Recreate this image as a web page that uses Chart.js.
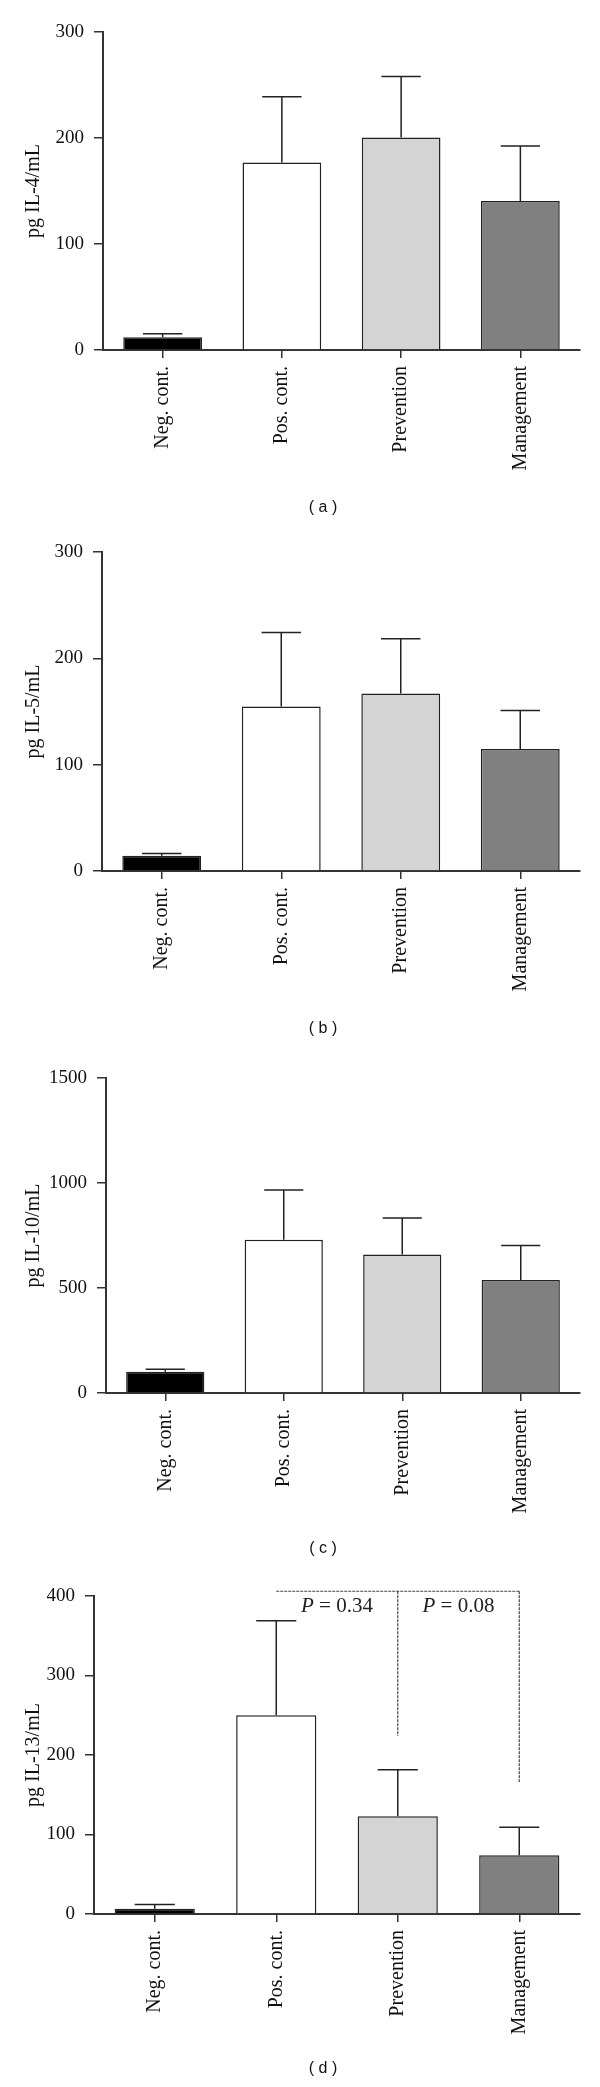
<!DOCTYPE html>
<html>
<head>
<meta charset="utf-8">
<script src="https://cdn.jsdelivr.net/npm/chart.js@4.4.1/dist/chart.umd.min.js"></script>
<style>
    html, body { margin: 0; padding: 0; background: #fff; }
    .panel { position: relative; width: 600px; }
    .panel canvas { display: block; }
    .caption {
        position: absolute; left: 273px; width: 100px; text-align: center;
        font: 16px "Liberation Sans", Arial, sans-serif; line-height: 20px; color: #111;
    }
</style>
</head>
<body>
<div id="figure"></div>
<script>
// Groupes (axe x)
const categories = ['Neg. cont.', 'Pos. cont.', 'Prevention', 'Management'];

// (a) IL-4 : moyennes et écarts (barre d'erreur supérieure)
const il4Means = [12, 177, 200.5, 140.5];
const il4Sd = [3.4, 62, 57.5, 52];

// (b) IL-5
const il5Means = [14.4, 154.7, 166.9, 114.8];
const il5Sd = [2, 69.6, 51.5, 36.1];

// (c) IL-10
const il10Means = [101.6, 730, 659, 538];
const il10Sd = [11, 237, 174, 164];

// (d) IL-13
const il13Means = [6.5, 250, 123, 74];
const il13Sd = [5.5, 119, 58.5, 35];

// (d) comparaisons : niveau du trait horizontal, bas des traits verticaux, valeurs P
const il13BracketLevel = 406;
const il13BracketDrops = [224, 166];
const il13PValues = ['0.34', '0.08'];

const SERIF = '"Liberation Serif", "Times New Roman", serif';
const INK = '#222';
const BAR_FILLS = ['#000000', '#ffffff', '#d4d4d4', '#808080'];

/**
 * Barres d'erreur (vers le haut seulement)
 */
const errorBarsPlugin = {
    id: 'errorBars',
    afterDatasetsDraw(chart, args, opts) {
        if (!opts || !opts.sd) return;
        const { ctx } = chart;
        const yScale = chart.scales.y;
        const values = chart.data.datasets[0].data;
        const meta = chart.getDatasetMeta(0);

        ctx.save();
        ctx.strokeStyle = INK;
        ctx.lineWidth = 1.5;
        meta.data.forEach((bar, i) => {
            const top = yScale.getPixelForValue(values[i] + opts.sd[i]);
            const half = bar.width * 0.25;
            ctx.beginPath();
            ctx.moveTo(bar.x, bar.y);
            ctx.lineTo(bar.x, top);
            ctx.moveTo(bar.x - half, top);
            ctx.lineTo(bar.x + half, top);
            ctx.stroke();
        });
        ctx.restore();
    }
};

/**
 * Crochet de comparaison avec valeurs P (panneau d)
 */
const bracketPlugin = {
    id: 'bracket',
    afterDraw(chart, args, opts) {
        if (!opts || !opts.level) return;
        const { ctx } = chart;
        const xs = chart.scales.x;
        const ys = chart.scales.y;
        const yTop = ys.getPixelForValue(opts.level);
        const xStart = xs.getPixelForValue(opts.from);
        const xEnd = xs.getPixelForValue(opts.to[opts.to.length - 1]);

        ctx.save();
        ctx.strokeStyle = '#444';
        ctx.lineWidth = 1.2;
        ctx.setLineDash([3, 1]);
        ctx.beginPath();
        ctx.moveTo(xStart, yTop);
        ctx.lineTo(xEnd, yTop);
        opts.to.forEach((idx, k) => {
            const x = xs.getPixelForValue(idx);
            ctx.moveTo(x, yTop);
            ctx.lineTo(x, ys.getPixelForValue(opts.drops[k]));
        });
        ctx.stroke();
        ctx.setLineDash([]);

        // Texte "P = ..." centré entre deux groupes
        ctx.fillStyle = INK;
        ctx.textBaseline = 'middle';
        ctx.textAlign = 'left';
        const points = [opts.from, ...opts.to];
        opts.labels.forEach((val, k) => {
            const cx = (xs.getPixelForValue(points[k]) + xs.getPixelForValue(points[k + 1])) / 2;
            const italic = 'italic 21px ' + SERIF;
            const upright = '21px ' + SERIF;
            const rest = ' = ' + val;
            ctx.font = italic;
            const wP = ctx.measureText('P').width;
            ctx.font = upright;
            const wRest = ctx.measureText(rest).width;
            const x0 = cx - (wP + wRest) / 2;
            const y = yTop + 15;
            ctx.font = italic;
            ctx.fillText('P', x0, y);
            ctx.font = upright;
            ctx.fillText(rest, x0 + wP, y);
        });
        ctx.restore();
    }
};

const PANELS = [
    { letter: 'a', title: 'pg IL-4/mL', means: il4Means, sd: il4Sd, max: 300, step: 100,
      height: 522, top: 32, bottom: 350, axisX: 103, caption: 507 },
    { letter: 'b', title: 'pg IL-5/mL', means: il5Means, sd: il5Sd, max: 300, step: 100,
      height: 522, top: 30, bottom: 349, axisX: 102, caption: 506 },
    { letter: 'c', title: 'pg IL-10/mL', means: il10Means, sd: il10Sd, max: 1500, step: 500,
      height: 522, top: 34, bottom: 349, axisX: 106, caption: 504 },
    { letter: 'd', title: 'pg IL-13/mL', means: il13Means, sd: il13Sd, max: 400, step: 100,
      height: 521, top: 30, bottom: 348, axisX: 94, caption: 502,
      bracket: { from: 1, to: [2, 3], level: il13BracketLevel, drops: il13BracketDrops, labels: il13PValues } }
];

/**
 * Crée un panneau (canvas + légende "(x)")
 */
function createPanel(p) {
    const wrap = document.createElement('div');
    wrap.className = 'panel';
    wrap.style.height = p.height + 'px';
    const canvas = document.createElement('canvas');
    canvas.width = 600;
    canvas.height = p.height;
    wrap.appendChild(canvas);
    const cap = document.createElement('div');
    cap.className = 'caption';
    cap.style.top = (p.caption - 10) + 'px';
    cap.textContent = '( ' + p.letter + ' )';
    wrap.appendChild(cap);
    document.getElementById('figure').appendChild(wrap);

    return new Chart(canvas.getContext('2d'), {
        type: 'bar',
        data: {
            labels: categories,
            datasets: [{
                data: p.means,
                backgroundColor: BAR_FILLS,
                borderColor: INK,
                borderWidth: 1.5,
                borderSkipped: 'bottom',
                barPercentage: 0.66,
                categoryPercentage: 1
            }]
        },
        options: {
            responsive: false,
            animation: false,
            devicePixelRatio: 1,
            layout: { padding: { top: p.top, right: 20, left: 0, bottom: 0 } },
            plugins: {
                legend: { display: false },
                tooltip: { enabled: false },
                errorBars: { sd: p.sd },
                bracket: p.bracket || {}
            },
            scales: {
                x: {
                    offset: true,
                    grid: { offset: false, drawOnChartArea: false, tickLength: 8, color: '#333', lineWidth: 1.5 },
                    border: { color: '#333', width: 2 },
                    ticks: { maxRotation: 90, minRotation: 90, color: '#111', padding: 8,
                             font: { family: SERIF, size: 20 } },
                    afterFit: (s) => { s.height = p.height - p.bottom; }
                },
                y: {
                    min: 0,
                    max: p.max,
                    ticks: { stepSize: p.step, color: '#111', padding: 10, font: { family: SERIF, size: 19 },
                             callback: (v) => String(v) },
                    grid: { drawOnChartArea: false, tickLength: 9, color: '#333', lineWidth: 1.5 },
                    border: { color: '#333', width: 2 },
                    title: { display: true, text: p.title, color: '#111',
                             font: { family: SERIF, size: 20 }, padding: { top: 22, bottom: 0 } },
                    afterFit: (s) => { s.width = p.axisX; }
                }
            }
        },
        plugins: [errorBarsPlugin, bracketPlugin]
    });
}

PANELS.forEach(createPanel);
</script>
</body>
</html>
